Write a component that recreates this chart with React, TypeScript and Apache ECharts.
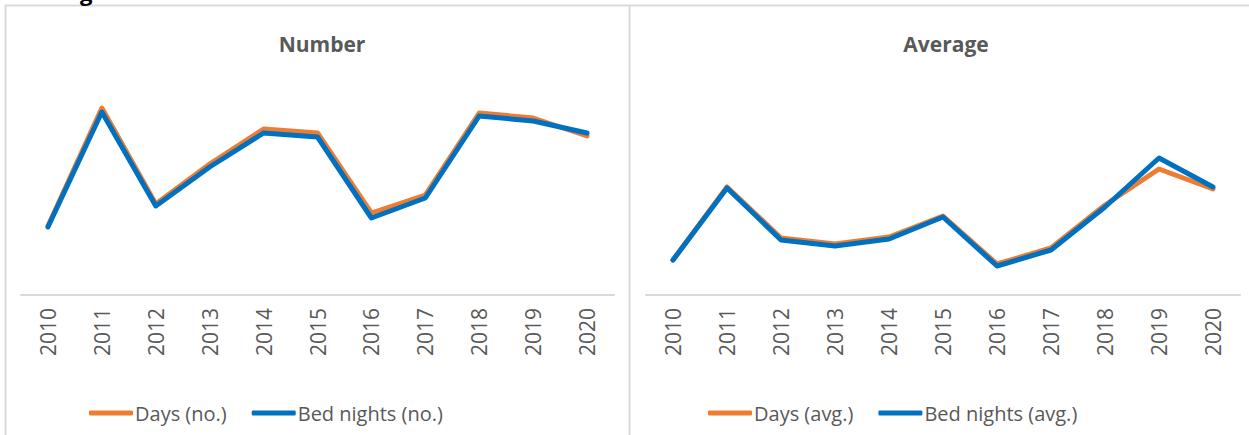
import React, { useEffect, useRef } from "react";
import * as echarts from "echarts";

const years = ["2010", "2011", "2012", "2013", "2014", "2015", "2016", "2017", "2018", "2019", "2020"];
const daysNo = [69, 187, 91, 131, 166, 162, 82, 100, 182, 177, 159];
const bedNightsNo = [68, 183, 89, 128, 162, 158, 77, 97, 179, 174, 162];
const daysAvg = [35, 108, 57, 51, 58, 79, 31, 47, 90, 126, 106];
const bedNightsAvg = [35, 107, 55, 49, 56, 78, 29, 45, 88, 137, 108];

const ORANGE = "#ED7D31";
const BLUE = "#0070C0";
const GRAY = "#595959";
const BORDER = "#D9D9D9";
const FONT = "'Open Sans', 'Noto Sans', sans-serif";

export default function App() {
  const ref = useRef<HTMLDivElement>(null);
  useEffect(() => {
    document.body.style.margin = "0";
    const chart = echarts.init(ref.current!, null, { renderer: "svg" });
    const xAxisCommon = {
      type: "category",
      data: years,
      boundaryGap: true,
      axisLine: { lineStyle: { color: BORDER, width: 2 } },
      axisTick: { show: false },
      axisLabel: { rotate: 90, margin: 13, color: GRAY, fontSize: 21, fontFamily: FONT },
    };
    const yAxisCommon = {
      type: "value",
      min: 0,
      max: 235,
      show: false,
      splitLine: { show: false },
    };
    const lineSeries = (name: string, data: number[], color: string, idx: number) => ({
      name,
      type: "line",
      data,
      xAxisIndex: idx,
      yAxisIndex: idx,
      symbol: "none",
      lineStyle: { color, width: 5, cap: "round", join: "round" },
      itemStyle: { color },
    });
    const legendCommon = {
      top: 398,
      itemWidth: 44,
      itemHeight: 5,
      itemGap: 25,
      icon: "roundRect",
      textStyle: { color: GRAY, fontSize: 20, fontFamily: FONT, padding: [0, 0, 0, -3] },
    };
    chart.setOption({
      animation: false,
      backgroundColor: "#ffffff",
      title: [
        { text: "Number", left: 317, top: 28, textAlign: "center", textStyle: { color: GRAY, fontSize: 21, fontWeight: "bold", fontFamily: FONT } },
        { text: "Average", left: 941, top: 28, textAlign: "center", textStyle: { color: GRAY, fontSize: 21, fontWeight: "bold", fontFamily: FONT } },
      ],
      legend: [
        { ...legendCommon, left: 84, data: ["Days (no.)", "Bed nights (no.)"] },
        { ...legendCommon, left: 703, data: ["Days (avg.)", "Bed nights (avg.)"] },
      ],
      grid: [
        { left: 21, width: 593, top: 60, height: 235 },
        { left: 646, width: 594, top: 60, height: 235 },
      ],
      xAxis: [
        { ...xAxisCommon, gridIndex: 0 },
        { ...xAxisCommon, gridIndex: 1 },
      ],
      yAxis: [
        { ...yAxisCommon, gridIndex: 0 },
        { ...yAxisCommon, gridIndex: 1 },
      ],
      series: [
        lineSeries("Days (no.)", daysNo, ORANGE, 0),
        lineSeries("Bed nights (no.)", bedNightsNo, BLUE, 0),
        lineSeries("Days (avg.)", daysAvg, ORANGE, 1),
        lineSeries("Bed nights (avg.)", bedNightsAvg, BLUE, 1),
      ],
      graphic: [
        { type: "line", shape: { x1: 5, y1: 5.5, x2: 1249, y2: 5.5 }, style: { stroke: BORDER, lineWidth: 2 } },
        { type: "line", shape: { x1: 5.5, y1: 5, x2: 5.5, y2: 435 }, style: { stroke: BORDER, lineWidth: 2 } },
        { type: "line", shape: { x1: 629.5, y1: 5, x2: 629.5, y2: 435 }, style: { stroke: BORDER, lineWidth: 2 } },
        { type: "text", x: 80, y: -19, style: { text: "g", fill: "#000000", font: "bold 22px " + FONT } },
      ],
    });
    return () => chart.dispose();
  }, []);
  return <div ref={ref} style={{ width: 1249, height: 435, position: "fixed", left: 0, top: 0 }} />;
}
